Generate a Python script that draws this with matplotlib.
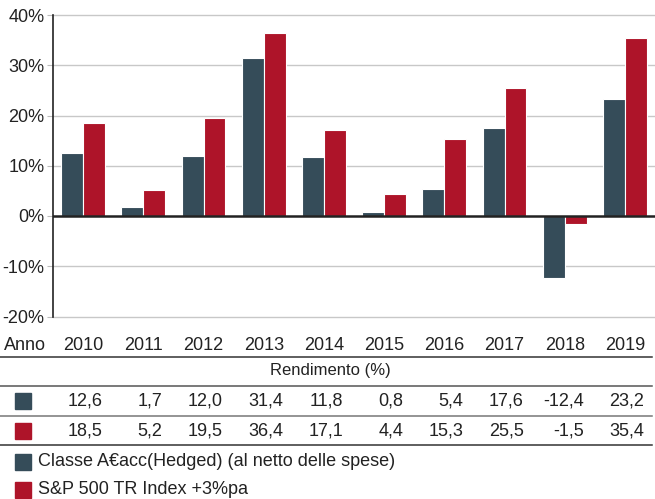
import matplotlib
matplotlib.use("Agg")
import matplotlib.pyplot as plt
import matplotlib.transforms as mtransforms
from matplotlib.patches import Rectangle
import numpy as np

years = ["2010", "2011", "2012", "2013", "2014", "2015", "2016", "2017", "2018", "2019"]
fund = [12.6, 1.7, 12.0, 31.4, 11.8, 0.8, 5.4, 17.6, -12.4, 23.2]
index = [18.5, 5.2, 19.5, 36.4, 17.1, 4.4, 15.3, 25.5, -1.5, 35.4]
fund_label = "Classe A€acc(Hedged) (al netto delle spese)"
index_label = "S&P 500 TR Index +3%pa"
yticks = [-20, -10, 0, 10, 20, 30, 40]

DARK = "#354c59"
RED = "#ae1429"
TXT = "#222222"
W, H = 655, 499
FS = 13

plt.rcParams['font.family'] = ['Liberation Sans', 'DejaVu Sans']
fig = plt.figure(figsize=(W / 100, H / 100), dpi=100)

def fy(py):
    return 1 - py / H

def fx(px):
    return px / W

YLO, YHI = -21.0, 40.4
ppu = (216 - 15) / 40.0
top_px = 216 - YHI * ppu
bot_px = 216 - YLO * ppu
ax = fig.add_axes([fx(53), fy(bot_px), fx(655) - fx(53), fy(top_px) - fy(bot_px)])
x = np.arange(len(years))
bw = 0.365
ax.bar(x - bw / 2, fund, bw, color=DARK, edgecolor="white", linewidth=0.8, zorder=3)
ax.bar(x + bw / 2, index, bw, color=RED, edgecolor="white", linewidth=0.8, zorder=3)
ax.set_xlim(-0.5, len(years) - 0.5)
ax.set_ylim(YLO, YHI)
ax.set_yticks(yticks)
ax.set_yticklabels([f"{t}%" for t in yticks], fontsize=FS, color=TXT)
ax.tick_params(axis='y', length=4, color="#bbbbbb", pad=2)
ax.set_xticks([])
for t in yticks:
    if t != 0:
        ax.axhline(t, color="#c8c8c8", linewidth=1, zorder=0)
ax.axhline(0, color="#222222", linewidth=1.8, zorder=4)
for s in ["top", "right", "bottom"]:
    ax.spines[s].set_visible(False)
ax.spines["left"].set_color("#222222")
ax.spines["left"].set_linewidth(1.2)
ax.spines["left"].set_bounds(yticks[0], yticks[-1])

trans = mtransforms.blended_transform_factory(ax.transData, fig.transFigure)

# Year row
fig.text(fx(4), fy(345), "Anno", fontsize=FS, color=TXT, va="center", ha="left")
for i, yr in enumerate(years):
    fig.text(i, fy(345), yr, transform=trans, fontsize=FS, color=TXT, va="center", ha="center")

# horizontal lines of the table
for py, col in [(357, "#333333"), (386, "#555555"), (416, "#777777"), (445, "#333333")]:
    fig.add_artist(plt.Line2D([0, fx(652)], [fy(py), fy(py)], transform=fig.transFigure,
                              color=col, linewidth=1.1))

fig.text(fx(330), fy(371), "Rendimento (%)", fontsize=12, color=TXT, va="center", ha="center")

for row, (vals, col, py) in enumerate([(fund, DARK, 401), (index, RED, 431)]):
    fig.add_artist(Rectangle((fx(15), fy(py + 8)), fx(16), fy(py - 8) - fy(py + 8),
                             transform=fig.transFigure, color=col))
    for i, v in enumerate(vals):
        fig.text(i + 0.32, fy(py), f"{v:.1f}".replace(".", ","), transform=trans,
                 fontsize=FS, color=TXT, va="center", ha="right")

for lab, col, py in [(fund_label, DARK, 462), (index_label, RED, 490)]:
    fig.add_artist(Rectangle((fx(15), fy(py + 8)), fx(16), fy(py - 8) - fy(py + 8),
                             transform=fig.transFigure, color=col))
    fig.text(fx(38), fy(py), lab, fontsize=FS, color=TXT, va="center", ha="left")

fig.savefig("out.png", dpi=100)
